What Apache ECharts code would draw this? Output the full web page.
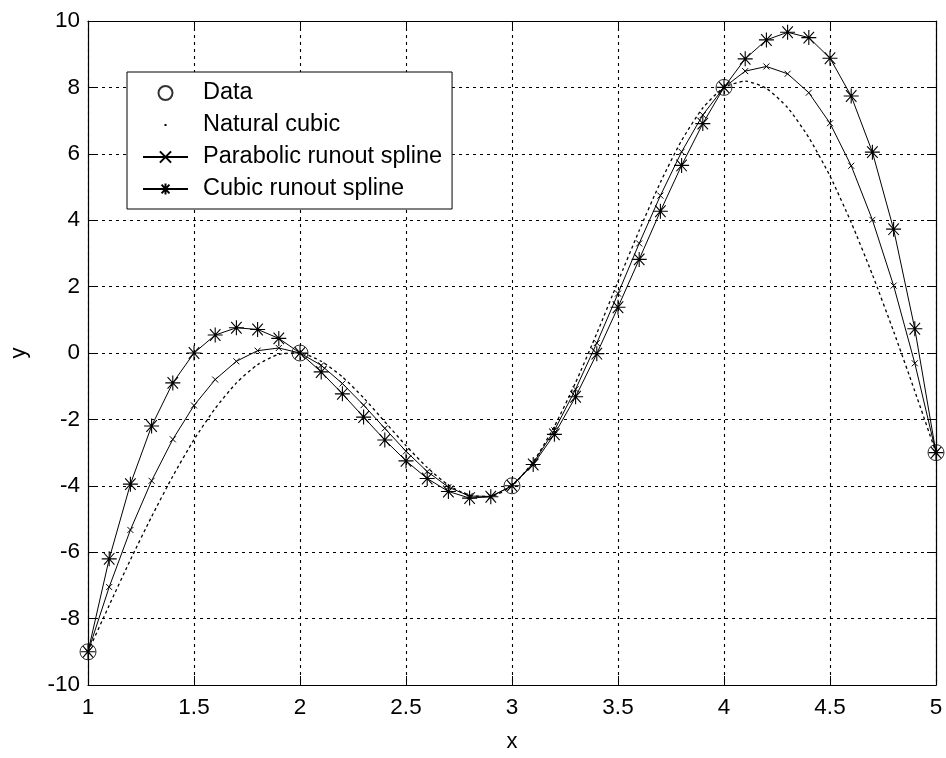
<!DOCTYPE html>
<html>
<head>
<meta charset="utf-8">
<script src="https://cdn.jsdelivr.net/npm/echarts@6/dist/echarts.min.js"></script>
<style>
html,body{margin:0;padding:0;background:#fff;}
#chart{width:946px;height:758px;}
</style>
</head>
<body>
<div id="chart"></div>
<script>
// Data nodes
const dataX = [1, 2, 3, 4, 5];
const dataY = [-9, 0, -4, 8, -3];

// Evaluation points of the splines
const xs = [1.0,1.1,1.2,1.3,1.4,1.5,1.6,1.7,1.8,1.9,
            2.0,2.1,2.2,2.3,2.4,2.5,2.6,2.7,2.8,2.9,
            3.0,3.1,3.2,3.3,3.4,3.5,3.6,3.7,3.8,3.9,
            4.0,4.1,4.2,4.3,4.4,4.5,4.6,4.7,4.8,4.9,5.0];

const naturalY = [-9,-7.60,-6.23,-4.93,-3.71,-2.61,-1.67,-0.90,-0.35,-0.04,
                  0,-0.25,-0.72,-1.35,-2.07,-2.79,-3.45,-3.98,-4.29,-4.32,
                  -4,-3.28,-2.21,-0.89,0.59,2.15,3.69,5.14,6.40,7.38,
                  8,8.19,7.97,7.39,6.49,5.33,3.93,2.36,0.65,-1.15,-3];

const parabolicY = [-9,-7.05,-5.33,-3.85,-2.60,-1.58,-0.80,-0.25,0.07,0.15,
                    0,-0.37,-0.92,-1.57,-2.27,-2.96,-3.57,-4.04,-4.31,-4.32,
                    -4,-3.32,-2.33,-1.09,0.30,1.79,3.30,4.74,6.06,7.17,
                    8,8.49,8.63,8.41,7.84,6.92,5.64,4.01,2.03,-0.31,-3];

const cubicY = [-9,-6.20,-3.95,-2.20,-0.90,0.00,0.54,0.76,0.71,0.44,
                0,-0.57,-1.23,-1.93,-2.62,-3.25,-3.78,-4.17,-4.37,-4.33,
                -4,-3.36,-2.45,-1.32,-0.02,1.38,2.82,4.27,5.65,6.91,
                8,8.86,9.43,9.66,9.50,8.88,7.74,6.05,3.73,0.73,-3];

const seriesNames = ['Data', 'Natural cubic', 'Parabolic runout spline', 'Cubic runout spline'];

const pair = (x, y) => x.map((v, i) => [v, y[i]]);

const FONT = "'Liberation Sans', Arial, sans-serif";
const gridLine = {show: true, lineStyle: {color: '#000', type: [3, 4], width: 1.1}};
const asterisk = 'path://M0,-0.9L0,0.9M-1,0L1,0M-0.7,-0.7L0.7,0.7M-0.7,0.7L0.7,-0.7';
const smallX = 'path://M-1,-1L1,1M-1,1L1,-1';
const dotIcon = 'path://M0,0M45,14M21.5,6h2v2h-2z';

const chart = echarts.init(document.getElementById('chart'), null, {renderer: 'canvas'});
chart.setOption({
  backgroundColor: '#fff',
  animation: false,
  textStyle: {fontFamily: FONT, color: '#000'},
  grid: {left: 88, right: 10, top: 21, bottom: 68, containLabel: false},
  legend: {
    orient: 'vertical',
    left: 127, top: 72,
    backgroundColor: '#fff',
    borderColor: '#000', borderWidth: 1,
    padding: [9, 10, 8, 15],
    itemGap: 8,
    itemWidth: 45, itemHeight: 14,
    textStyle: {fontFamily: FONT, fontSize: 23.5, color: '#000', padding: [0, 0, 0, 10]},
    data: [
      {name: seriesNames[0]},
      {name: seriesNames[1], icon: dotIcon, itemStyle: {color: '#000', borderWidth: 0}},
      {name: seriesNames[2]},
      {name: seriesNames[3]}
    ]
  },
  xAxis: [{
    type: 'value', min: 1, max: 5, interval: 0.5,
    name: 'x', nameLocation: 'middle', nameGap: 46,
    nameTextStyle: {fontFamily: FONT, fontSize: 22, color: '#000'},
    axisLine: {show: true, onZero: false, lineStyle: {color: '#000', width: 1.2}},
    axisTick: {show: true, inside: true, length: 9, lineStyle: {color: '#000'}},
    axisLabel: {fontFamily: FONT, fontSize: 22.5, color: '#000', margin: 11},
    splitLine: gridLine
  }, {
    type: 'value', min: 1, max: 5, interval: 0.5, position: 'top',
    axisLine: {show: true, onZero: false, lineStyle: {color: '#000', width: 1.2}},
    axisTick: {show: true, inside: true, length: 9, lineStyle: {color: '#000'}},
    axisLabel: {show: false},
    splitLine: {show: false}
  }],
  yAxis: [{
    type: 'value', min: -10, max: 10, interval: 2,
    name: 'y', nameLocation: 'middle', nameGap: 58, nameRotate: 90,
    nameTextStyle: {fontFamily: FONT, fontSize: 22, color: '#000'},
    axisLine: {show: true, onZero: false, lineStyle: {color: '#000', width: 1.2}},
    axisTick: {show: true, inside: true, length: 9, lineStyle: {color: '#000'}},
    axisLabel: {fontFamily: FONT, fontSize: 22.5, color: '#000', margin: 8},
    splitLine: gridLine
  }, {
    type: 'value', min: -10, max: 10, interval: 2, position: 'right',
    axisLine: {show: true, onZero: false, lineStyle: {color: '#000', width: 1.2}},
    axisTick: {show: true, inside: true, length: 9, lineStyle: {color: '#000'}},
    axisLabel: {show: false},
    splitLine: {show: false}
  }],
  series: [
    {
      name: seriesNames[1], type: 'line', xAxisIndex: 0, yAxisIndex: 0,
      data: pair(xs, naturalY),
      showSymbol: false, symbol: 'none', smooth: 0.2,
      lineStyle: {color: '#000', width: 1.3, type: [3, 3]},
      itemStyle: {color: '#000'},
      z: 3
    },
    {
      name: seriesNames[2], type: 'line', xAxisIndex: 0, yAxisIndex: 0,
      data: pair(xs, parabolicY),
      symbol: smallX, symbolSize: 6, showSymbol: true,
      lineStyle: {color: '#000', width: 1},
      itemStyle: {color: '#000', borderColor: '#000', borderWidth: 1},
      z: 4
    },
    {
      name: seriesNames[3], type: 'line', xAxisIndex: 0, yAxisIndex: 0,
      data: pair(xs, cubicY),
      symbol: asterisk, symbolSize: 15, showSymbol: true,
      lineStyle: {color: '#000', width: 1},
      itemStyle: {color: '#000', borderColor: '#000', borderWidth: 1.1},
      z: 5
    },
    {
      name: seriesNames[0], type: 'scatter', xAxisIndex: 0, yAxisIndex: 0,
      data: pair(dataX, dataY),
      symbol: 'circle', symbolSize: 16,
      itemStyle: {color: 'rgba(0,0,0,0)', borderColor: '#000', borderWidth: 1},
      z: 6
    }
  ]
});
</script>
</body>
</html>
